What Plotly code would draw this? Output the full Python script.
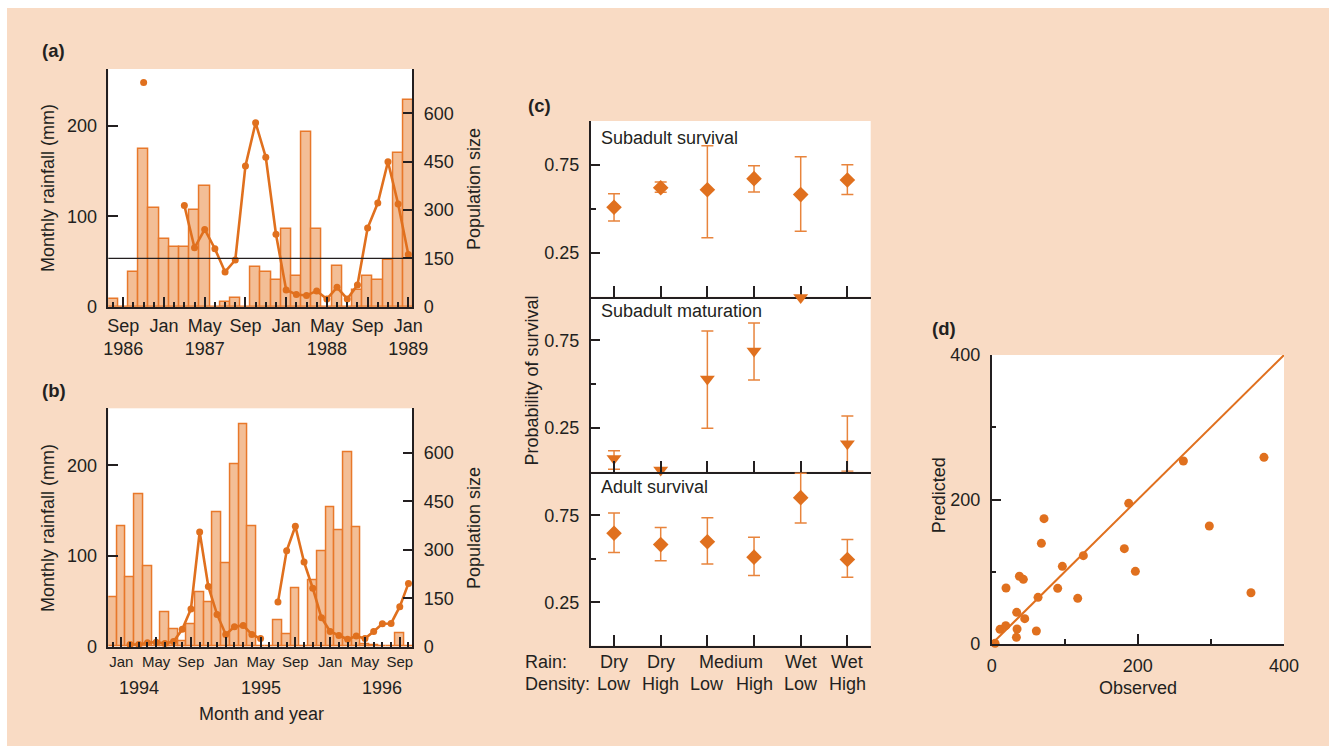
import plotly.graph_objects as go
import pandas as pd

# ---------------- data ----------------
# Panel (a): monthly rainfall (mm) and population size, Aug 1986 - Jan 1989
months_a = pd.period_range("1986-08", "1989-01", freq="M")
rain_a = [8, 0, 38, 175, 109, 75, 66, 66, 107, 133, 0, 5, 10, 0, 44, 38, 30,
          86, 34, 193, 86, 0, 45, 0, 19, 34, 29, 52, 170, 229]
pop_a = [None, None, None, 696, None, None, None, 314, 183, 240, 180, 108, 145,
         437, 571, 464, 225, 52, 38, 35, 49, 24, 60, 24, 67, 244, 322, 450, 319, 162]
year_marks_a = ["1986-09", "1987-05", "1988-05", "1989-01"]
threshold_pop = 150

# Panel (b): Dec 1993 - Oct 1996
months_b = pd.period_range("1993-12", "1996-10", freq="M")
rain_b = [54, 133, 77, 168, 89, 0, 38, 19, 5.5, 25, 60, 49, 148, 92, 201, 245, 133,
          0, 0, 29.5, 13.6, 64, 0, 73, 105, 154, 128, 214, 131.5, 2.5, 1.8, 0, 0, 14.4, 0]
pop_b = [None, None, 7, 7, 12, 14, 10, 16, 54, 117, 355, 186, 100, 38, 62, 66, 38, 25,
         None, 138, 297, 373, 262, 181, 90, 47, 35, 23, 33, 25, 47, 71, 72, 124, 196]
year_marks_b = {"1994": "1994-03", "1995": "1995-05", "1996": "1996-07"}

labeled_months = ["Jan", "May", "Sep"]
rain_ticks = [0, 100, 200]
pop_ticks = [0, 150, 300, 450, 600]

# Panel (c): survival probabilities by rain / density class
rain_cat = ["Dry", "Dry", "Medium", "Medium", "Wet", "Wet"]
density_cat = ["Low", "High", "Low", "High", "Low", "High"]
subadult_surv = [0.509, 0.620, 0.609, 0.672, 0.581, 0.664]
subadult_hi = [0.586, 0.653, 0.859, 0.746, 0.797, 0.751]
subadult_lo = [0.431, 0.594, 0.336, 0.596, 0.372, 0.581]
maturation = [0.075, 0.01, 0.530, 0.690, 0.995, 0.160]
maturation_hi = [0.120, None, 0.804, 0.850, None, 0.318]
maturation_lo = [0.014, None, 0.248, 0.524, None, 0.002]
adult_surv = [0.646, 0.581, 0.597, 0.509, 0.851, 0.495]
adult_hi = [0.762, 0.680, 0.735, 0.623, 0.991, 0.611]
adult_lo = [0.535, 0.488, 0.469, 0.404, 0.705, 0.393]

# Panel (d): observed vs predicted
observed = [4.6, 11.4, 19.2, 19.6, 33.8, 34.7, 34.2, 37.9, 43.3, 45.2, 61.1, 63.4, 68,
            71.6, 90.3, 96.7, 117.7, 125.4, 181.5, 187.5, 196.6, 262.3, 297.8, 354.8, 372.6]
predicted = [0.9, 20.3, 25.4, 77.5, 9.2, 20.8, 43.8, 93.7, 89.5, 35.1, 18, 64.6, 139.3,
             173.5, 77, 107.5, 63.2, 122.3, 132, 194.7, 100.6, 253.3, 163.3, 71, 258.4]
identity = [0, 400]

# ---------------- style ----------------
W, H = 1329, 746
FONT = "Liberation Sans, Arial, sans-serif"
INK = "#231F20"
PEACH = "#F9DBC4"
BAR_FILL = "#F3BE96"
BAR_LINE = "#E8782A"
ORANGE = "#E0701E"
ERR = "#E8843C"


def fx(px):
    return px / W


def fy(py):
    return 1 - py / H


def ax(**kw):
    base = dict(showline=True, linecolor=INK, linewidth=1.5, ticks="inside",
                tickcolor=INK, tickwidth=1.5, ticklen=10, showgrid=False,
                zeroline=False, fixedrange=True, automargin=False,
                tickfont=dict(family=FONT, size=18, color=INK))
    base.update(kw)
    return base


def month_ticks(months, year_marks):
    tv, tt = [], []
    for i, p in enumerate(months):
        name = p.strftime("%b")
        if name in labeled_months:
            t = name
            if year_marks is not None and str(p) in year_marks:
                t += "<br>" + str(p.year)
            tv.append(i)
            tt.append(t)
    return tv, tt


fig = go.Figure()

# ---- (a)
xa = list(range(len(months_a)))
tv_a, tt_a = month_ticks(months_a, year_marks_a)
fig.add_trace(go.Bar(x=xa, y=rain_a, width=1, xaxis="x", yaxis="y",
                     marker=dict(color=BAR_FILL, line=dict(color=BAR_LINE, width=1.5)),
                     showlegend=False))
fig.add_trace(go.Scatter(x=xa, y=pop_a, xaxis="x", yaxis="y2", mode="lines+markers",
                         connectgaps=False, cliponaxis=False,
                         line=dict(color=ORANGE, width=2.6),
                         marker=dict(color=ORANGE, size=7), showlegend=False))

# ---- (b)
xb = list(range(len(months_b)))
tv_b, tt_b = month_ticks(months_b, None)
fig.add_trace(go.Bar(x=xb, y=rain_b, width=1, xaxis="x2", yaxis="y3",
                     marker=dict(color=BAR_FILL, line=dict(color=BAR_LINE, width=1.5)),
                     showlegend=False))
fig.add_trace(go.Scatter(x=xb, y=pop_b, xaxis="x2", yaxis="y4", mode="lines+markers",
                         connectgaps=False, cliponaxis=False,
                         line=dict(color=ORANGE, width=2.6),
                         marker=dict(color=ORANGE, size=7), showlegend=False))

# ---- (c)
xc = list(range(len(rain_cat)))


def add_est(vals, hi, lo, symbol, size, xaxis, yaxis):
    xe, ye, up, dn, xn, yn = [], [], [], [], [], []
    for i, v in enumerate(vals):
        if hi[i] is None:
            xn.append(xc[i]); yn.append(v)
        else:
            xe.append(xc[i]); ye.append(v)
            up.append(hi[i] - v); dn.append(v - lo[i])
    fig.add_trace(go.Scatter(x=xe, y=ye, xaxis=xaxis, yaxis=yaxis, mode="markers",
                             cliponaxis=False,
                             marker=dict(symbol=symbol, size=size, color=ORANGE),
                             error_y=dict(type="data", symmetric=False, array=up,
                                          arrayminus=dn, color=ERR, thickness=1.5, width=6),
                             showlegend=False))
    if xn:
        fig.add_trace(go.Scatter(x=xn, y=yn, xaxis=xaxis, yaxis=yaxis, mode="markers",
                                 cliponaxis=False,
                                 marker=dict(symbol=symbol, size=size, color=ORANGE),
                                 showlegend=False))


add_est(subadult_surv, subadult_hi, subadult_lo, "diamond", 12, "x3", "y5")
add_est(maturation, maturation_hi, maturation_lo, "triangle-down", 13, "x4", "y6")
add_est(adult_surv, adult_hi, adult_lo, "diamond", 12, "x5", "y7")

# ---- (d)
fig.add_trace(go.Scatter(x=identity, y=identity, xaxis="x6", yaxis="y8", mode="lines",
                         line=dict(color=ORANGE, width=2), showlegend=False))
fig.add_trace(go.Scatter(x=observed, y=predicted, xaxis="x6", yaxis="y8", mode="markers",
                         cliponaxis=False, marker=dict(color=ORANGE, size=9),
                         showlegend=False))

# ---------------- axes ----------------
dom_ab_x = [fx(108.3), fx(412.3)]
dom_c_x = [fx(590.7), fx(870.7)]
rain_rng = [0, 263]
pop_rng = [0, 738]

layout_axes = dict(
    xaxis=ax(domain=dom_ab_x, anchor="y", range=[-0.47, 29.39], tickmode="array",
             tickvals=tv_a, ticktext=tt_a, ticklabelstandoff=2,
             minor=dict(tickmode="array", tickvals=xa, ticks="inside", ticklen=5,
                        tickcolor=INK, tickwidth=1.5, showgrid=False)),
    yaxis=ax(domain=[fy(306.7), fy(69)], anchor="x", range=rain_rng,
             tickmode="array", tickvals=rain_ticks, ticklabelstandoff=6),
    yaxis2=ax(overlaying="y", anchor="x", side="right", range=pop_rng,
              tickmode="array", tickvals=pop_ticks, ticklabelstandoff=6),
    xaxis2=ax(domain=dom_ab_x, anchor="y3", range=[-0.5, 34.44], tickmode="array",
              tickvals=tv_b, ticktext=tt_b, ticklabelstandoff=1,
              tickfont=dict(family=FONT, size=15, color=INK),
              minor=dict(tickmode="array", tickvals=xb, ticks="inside", ticklen=5,
                         tickcolor=INK, tickwidth=1.5, showgrid=False)),
    yaxis3=ax(domain=[fy(646.7), fy(408.3)], anchor="x2", range=rain_rng,
              tickmode="array", tickvals=rain_ticks, ticklabelstandoff=6),
    yaxis4=ax(overlaying="y3", anchor="x2", side="right", range=pop_rng,
              tickmode="array", tickvals=pop_ticks, ticklabelstandoff=6),
    xaxis6=ax(domain=[fx(991.7), fx(1284)], anchor="y8", range=[0, 400],
              tickmode="array", tickvals=[0, 200, 400], ticklabelstandoff=5,
              minor=dict(tickmode="array", tickvals=[100, 300], ticks="inside",
                         ticklen=5, tickcolor=INK, tickwidth=1.5, showgrid=False)),
    yaxis8=ax(domain=[fy(644), fy(355)], anchor="x6", range=[0, 400],
              tickmode="array", tickvals=[0, 200, 400], ticklabelstandoff=6,
              minor=dict(tickmode="array", tickvals=[100, 300], ticks="inside",
                         ticklen=5, tickcolor=INK, tickwidth=1.5, showgrid=False)),
)
c_doms = [[fy(296.7), fy(121)], [fy(471.7), fy(296.7)], [fy(645.7), fy(471.7)]]
for k, (xn, yn) in enumerate([(3, 5), (4, 6), (5, 7)]):
    layout_axes["xaxis%d" % xn] = ax(domain=dom_c_x, anchor="y%d" % yn, range=[-0.5, 5.5],
                                     tickmode="array", tickvals=xc, showticklabels=False,
                                     ticklen=11)
    layout_axes["yaxis%d" % yn] = ax(domain=c_doms[k], anchor="x%d" % xn, range=[0, 1],
                                     tickmode="array", tickvals=[0.25, 0.75],
                                     ticktext=["0.25", "0.75"], ticklabelstandoff=6,
                                     minor=dict(tickmode="array", tickvals=[0.5],
                                                ticks="inside", ticklen=6, tickcolor=INK,
                                                tickwidth=1.5, showgrid=False))

# ---------------- annotations ----------------
ann = []


def txt(x, y, s, size=18, xanchor="center", yanchor="middle", angle=0, bold=False,
        xref="paper", yref="paper"):
    ann.append(dict(x=x, y=y, xref=xref, yref=yref, text="<b>%s</b>" % s if bold else s,
                    showarrow=False, xanchor=xanchor, yanchor=yanchor, textangle=angle,
                    font=dict(family=FONT, size=size, color=INK)))


txt(fx(40), fy(50), "(a)", size=18.5, xanchor="left", bold=True)
txt(fx(40), fy(390), "(b)", size=18.5, xanchor="left", bold=True)
txt(fx(526), fy(106), "(c)", size=18.5, xanchor="left", bold=True)
txt(fx(930), fy(328), "(d)", size=18.5, xanchor="left", bold=True)

txt(fx(48), fy(188), "Monthly rainfall (mm)", angle=-90)
txt(fx(474), fy(189), "Population size", angle=-90)
txt(fx(48), fy(528), "Monthly rainfall (mm)", angle=-90)
txt(fx(474), fy(528), "Population size", angle=-90)
for yr, m in year_marks_b.items():
    txt(list(months_b.astype(str)).index(m), fy(688), yr, xref="x2")
txt(fx(261), fy(714), "Month and year")

txt(fx(599), fy(137.5), "Subadult survival", xanchor="left")
txt(fx(599), fy(311), "Subadult maturation", xanchor="left")
txt(fx(599), fy(486.5), "Adult survival", xanchor="left")
txt(fx(531.5), fy(381), "Probability of survival", angle=-90)
txt(fx(522.7), fy(662.3), "Rain:", xanchor="left")
txt(fx(522.7), fy(684), "Density:", xanchor="left")
prev = None
for i, r in enumerate(rain_cat):
    if r == "Medium":
        if prev != "Medium":
            txt(i + 0.5, fy(662.3), r, xref="x5")
    else:
        txt(i, fy(662.3), r, xref="x5")
    prev = r
    txt(i, fy(684), density_cat[i], xref="x5")

txt(fx(938.5), fy(495.7), "Predicted", angle=-90)
txt(fx(1138), fy(688), "Observed")

shapes = [
    dict(type="rect", xref="paper", yref="paper", x0=0, x1=1, y0=fy(8), y1=1,
         fillcolor="white", line=dict(width=0), layer="below"),
    dict(type="rect", xref="paper", yref="paper", x0=0, x1=fx(7), y0=0, y1=1,
         fillcolor="white", line=dict(width=0), layer="below"),
    dict(type="line", xref="x domain", yref="y2", x0=0, x1=1, y0=threshold_pop,
         y1=threshold_pop, line=dict(color=INK, width=1.2)),
]

fig.update_layout(
    template="none",
    width=W, height=H, autosize=False,
    margin=dict(l=0, r=0, t=0, b=0, pad=0, autoexpand=False),
    paper_bgcolor=PEACH, plot_bgcolor="white",
    showlegend=False, bargap=0,
    font=dict(family=FONT, size=18, color=INK),
    annotations=ann, shapes=shapes,
    **layout_axes,
)

fig.write_html(
    "out.html",
    config={"displayModeBar": False, "responsive": False},
    post_script=("document.documentElement.style.margin='0';"
                 "document.documentElement.style.overflow='hidden';"
                 "document.documentElement.style.background='" + PEACH + "';"
                 "document.body.style.margin='0';"
                 "document.body.style.overflow='hidden';"
                 "document.body.style.background='" + PEACH + "';"),
)
